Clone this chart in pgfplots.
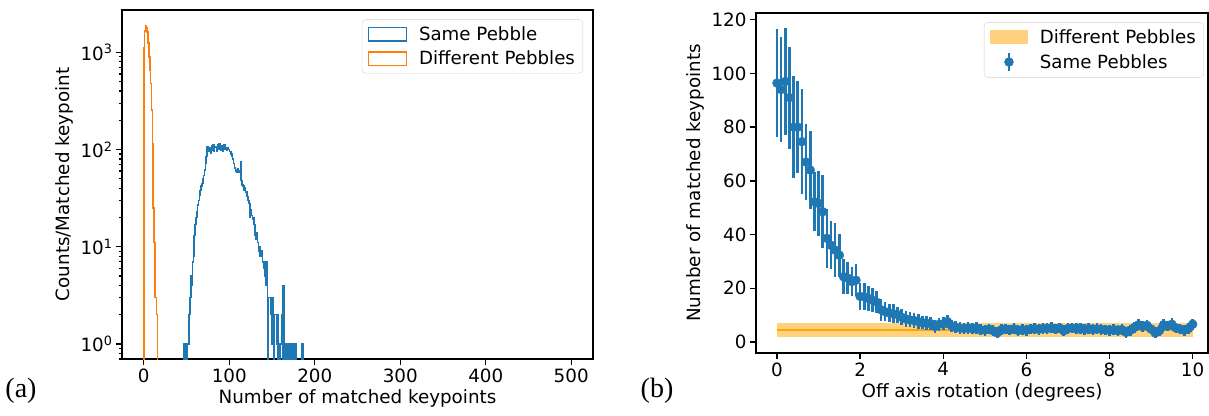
\documentclass[border=0pt]{standalone}
\usepackage{pgfplots}
\pgfplotsset{compat=1.18}
\usepackage{fontspec}
\setmainfont{DejaVu Sans}
\newfontfamily\serifpanel{Liberation Serif}
\definecolor{cblue}{HTML}{1F77B4}
\definecolor{corange}{HTML}{FF7F0E}
\definecolor{mplorange}{HTML}{FFA500}

% histogram bins of width 1 (0.01 stands for an empty bin, below the axis)
\pgfplotstableread{
x y
0 0.01
0 1125
1 1660
2 1870
3 1800
4 1630
5 1250
6 900
7 650
8 480
9 255
10 116
11 25
12 11
13 3
14 3
15 2
16 0.01
}\diffpebbles

\pgfplotstableread{
x y
46 0.01
47 1
48 0.01
49 1
50 0.01
51 1
52 1
53 2
54 3
55 5
56 4
57 7
58 8
59 13
60 17
61 20
62 23
63 27
64 30
65 34
66 38
67 42
68 45
69 50
70 54
71 62
72 72
73 85
74 108
75 100
76 95
77 105
78 92
79 110
80 98
81 112
82 96
83 105
84 108
85 95
86 112
87 100
88 115
89 102
90 98
91 110
92 95
93 108
94 112
95 100
96 104
97 98
98 105
99 100
100 95
101 96
102 90
103 85
104 80
105 72
106 65
107 60
108 62
109 58
110 63
111 60
112 58
113 75
114 48
115 43
116 42
117 38
118 40
119 36
120 37
121 33
122 30
123 28
124 20
125 24
126 21
127 19
128 20
129 17
130 13
131 12
132 14
133 11
134 9
135 10
136 8
137 9
138 8
139 7
140 6
141 7
142 5
143 4
144 7
145 0.01
146 3
147 3
148 2
149 3
150 1
151 3
152 0.01
153 2
154 2
155 1
156 2
157 0.01
158 1
159 0.01
160 1
161 2
162 0.01
163 4
164 1
165 0.01
166 1
167 0.01
168 1
169 1
170 0.01
171 1
172 1
173 0.01
174 1
175 1
176 0.01
177 1
178 0.01
185 1
186 0.01
}\samepebble

% rotation scan: angle, mean, spread
\pgfplotstableread{
x y e
0.0 96.4 20
0.1 94.0 19.5
0.2 97.0 20
0.3 91.0 19
0.4 80.0 19
0.5 80.0 17
0.6 74.6 19.5
0.7 67.0 14
0.8 64.0 14.5
0.9 52.2 11
1.0 51.6 12
1.1 48.5 13.5
1.2 38.6 11
1.3 36.0 9
1.4 34.2 10
1.5 32.3 8
1.6 24.3 6.5
1.7 23.8 6
1.8 22.5 5.5
1.9 23.0 6
2.0 17.0 5
2.1 16.8 5
2.2 16.2 4.5
2.3 15.5 4.5
2.4 14.8 4
2.5 12.0 4
2.6 11.3 3.5
2.7 10.8 3.5
2.8 10.5 3.5
2.9 10.2 3
3.0 9.2 3
3.1 8.6 3
3.2 8.2 2.8
3.3 8.0 2.8
3.4 7.6 2.8
3.5 7.2 2.5
3.6 7.0 2.5
3.7 6.8 2.5
3.8 5.8 2.5
3.9 6.6 2.5
4.0 6.8 2.5
4.1 7.6 2.5
4.2 6.0 2.2
4.3 5.5 2.2
4.4 5.2 2.2
4.5 5.0 2.2
4.6 5.3 2.2
4.7 4.9 2
4.8 5.2 2.2
4.9 4.6 2
5.0 4.4 2
5.1 4.8 2
5.2 4.2 2
5.3 3.4 2
5.4 4.6 2
5.5 4.8 2
5.6 4.5 2
5.7 4.9 2
5.8 4.3 2
5.9 4.6 2
6.0 4.4 2
6.1 4.8 2
6.2 5.0 2
6.3 4.7 2
6.4 5.1 2
6.5 5.0 2
6.6 5.3 2
6.7 4.8 2
6.8 5.2 2
6.9 4.2 2
7.0 5.0 2
7.1 5.2 2
7.2 4.9 2
7.3 5.1 2
7.4 4.7 2
7.5 5.0 2
7.6 4.6 2
7.7 4.9 2
7.8 4.7 2
7.9 4.5 2
8.0 4.4 2
8.1 4.6 2
8.2 4.2 2
8.3 4.6 2
8.4 3.6 2
8.5 4.4 2
8.6 5.4 2
8.7 6.4 2
8.8 5.8 2
8.9 6.2 2
9.0 4.8 2
9.1 3.4 2
9.2 4.2 2
9.3 6.4 2.2
9.4 6.0 2
9.5 6.6 2.2
9.6 5.2 2
9.7 4.8 2
9.8 4.4 2
9.9 5.0 2
10.0 6.6 2
}\rotation

\begin{document}
\begin{tikzpicture}
\path[use as bounding box] (0pt,0pt) rectangle (1209pt,415pt);
\pgfplotsset{
  mplstyle/.style={
    scale only axis,
    axis line style={line width=1.3pt},
    tick style={line width=1.3pt,black},
    tick align=outside,
    tick pos=left,
    major tick length=6pt,
    minor tick length=3.5pt,
    /pgf/number format/assume math mode=true,
    tick label style={font=\fontsize{18.3}{22}\selectfont},
    label style={font=\fontsize{18.3}{22}\selectfont},
    legend cell align=left,
    legend style={font=\fontsize{18.2}{22}\selectfont,
      draw=black!18, rounded corners=4pt, fill=white,
      inner xsep=6pt, inner ysep=5pt, row sep=5pt,
      /tikz/every odd column/.append style={column sep=10pt}},
  },
}

% (a) histogram
\begin{axis}[mplstyle,
  at={(122pt,56pt)}, anchor=south west,
  width=471pt, height=349pt,
  xmin=-25.5, xmax=525.5,
  ymode=log, log basis y=10,
  ymin=0.70, ymax=2730,
  xtick={0,100,...,500},
  yticklabel={10\textsuperscript{\pgfmathprintnumber[fixed,precision=0]{\tick}}},
  xlabel={Number of matched keypoints},
  ylabel={Counts/Matched keypoint},
  legend style={at={(0.979,0.973)}, anchor=north east},
]
\addplot[const plot, cblue, line width=1.5pt,
  legend image code/.code={\draw[cblue,line width=1.3pt,fill=none,sharp corners] (0pt,-6.7pt) rectangle (37.7pt,6.7pt);}]
  table {\samepebble};
\addlegendentry{Same Pebble}
\addplot[const plot, corange, line width=1.5pt,
  legend image code/.code={\draw[corange,line width=1.3pt,fill=none,sharp corners] (0pt,-6.7pt) rectangle (37.7pt,6.7pt);}]
  table {\diffpebbles};
\addlegendentry{Different Pebbles}
\end{axis}

% (b) rotation scan
\begin{axis}[mplstyle,
  at={(756pt,62pt)}, anchor=south west,
  width=452pt, height=340pt,
  xmin=-0.505, xmax=10.37,
  ymin=-4.1, ymax=122.5,
  xtick={0,2,...,10},
  ytick={0,20,...,120},
  xlabel={Off axis rotation (degrees)},
  ylabel={Number of matched keypoints},
  legend style={at={(0.991,0.973)}, anchor=north east},
]
\addplot[draw=none, fill=mplorange, fill opacity=0.5,
  legend image code/.code={\fill[mplorange,fill opacity=0.5,sharp corners] (0pt,-7pt) rectangle (37.7pt,7pt);}]
  coordinates {(0,1.9)(10,1.9)(10,6.9)(0,6.9)} -- cycle;
\addlegendentry{Different Pebbles}
\addplot[mplorange, line width=2pt, forget plot] coordinates {(0,4.6)(10,4.6)};
\addplot[cblue, only marks, mark=*, mark size=4.5pt,
  mark options={draw=cblue, fill=cblue},
  legend image code/.code={
    \draw[cblue,line width=2.6pt,sharp corners] (18.85pt,-9pt) -- (18.85pt,9pt);
    \fill[cblue] (18.85pt,0pt) circle (4.5pt);},
  error bars/.cd, y dir=both, y explicit,
  error bar style={line width=2.6pt, cblue}, error mark=none]
  table[x=x, y=y, y error=e] {\rotation};
\addlegendentry{Same Pebbles}
\end{axis}

\node[font=\serifpanel\fontsize{28}{30}\selectfont] at (21pt,24pt) {(a)};
\node[font=\serifpanel\fontsize{28}{30}\selectfont] at (657pt,24pt) {(b)};
\end{tikzpicture}
\end{document}
